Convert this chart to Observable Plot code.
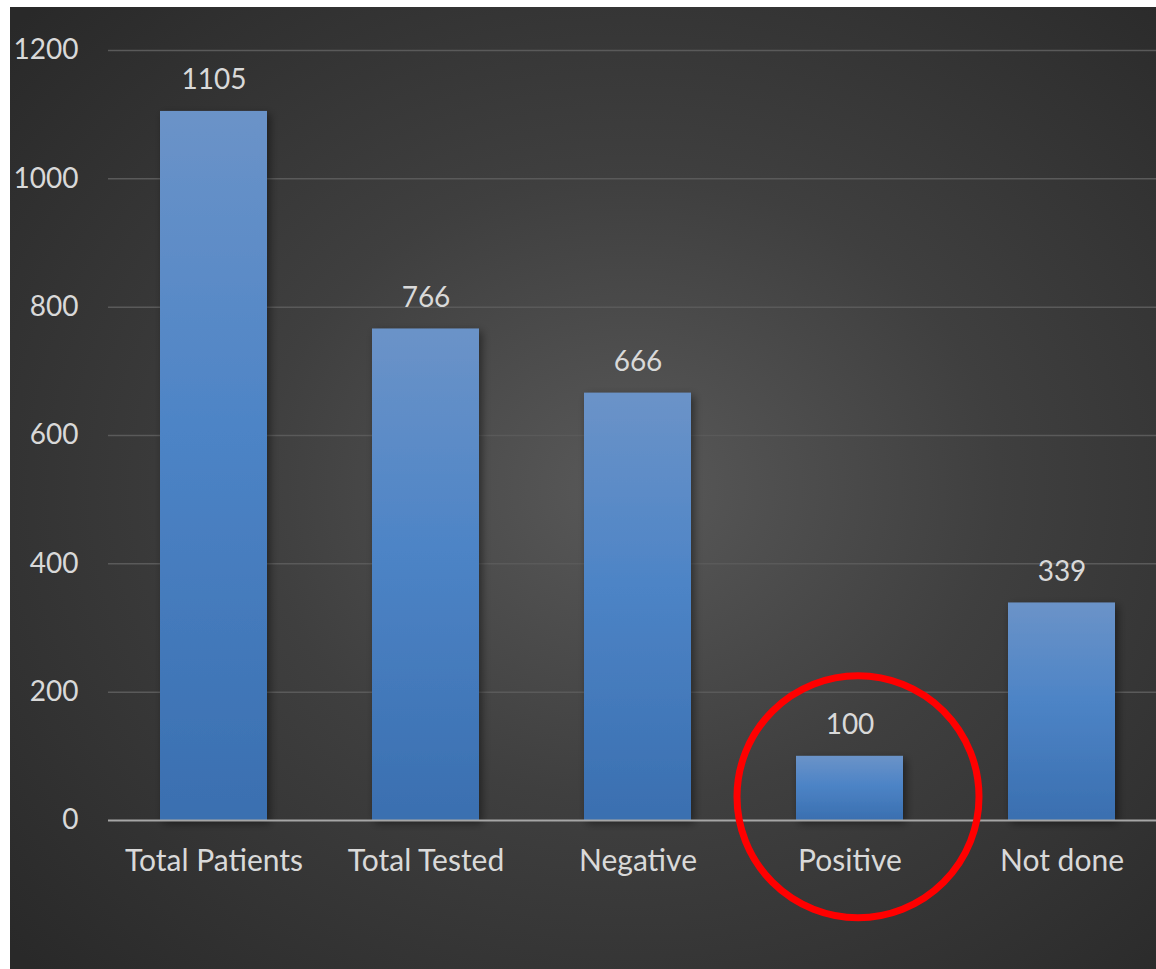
<!DOCTYPE html>
<html>
<head>
<meta charset="utf-8">
<script src="https://cdn.jsdelivr.net/npm/d3@7"></script>
<script src="https://cdn.jsdelivr.net/npm/@observablehq/plot@0.6"></script>
<style>
  html, body { margin: 0; padding: 0; background: #ffffff; }
  #chart {
    position: absolute; left: 10px; top: 7px;
    width: 1146px; height: 962px;
    background: radial-gradient(ellipse 72% 72% at 54% 50%, #595959 0%, #3f3f3f 45%, #292929 100%);
    overflow: hidden;
  }
  #chart svg { background: transparent; overflow: visible; }
</style>
</head>
<body>
<div id="chart"></div>
<script>
const categories = ["Total Patients", "Total Tested", "Negative", "Positive", "Not done"];
const values = [1105, 766, 666, 100, 339];
const yTicks = [0, 200, 400, 600, 800, 1000, 1200];
const highlight = [{category: "Positive", value: 37}];

const data = categories.map((c, i) => ({category: c, value: values[i]}));
const W = 1146, H = 962;
const font = "Lato, 'Open Sans', sans-serif";

const chart = Plot.plot({
  width: W,
  height: H,
  marginTop: 43,
  marginBottom: 149,
  marginLeft: 98,
  marginRight: 0,
  style: {background: "transparent", fontFamily: font, color: "#d9d9d9", overflow: "visible"},
  x: {domain: categories, range: [98, 1158], paddingInner: 0.495, paddingOuter: 0.2475, label: null},
  y: {domain: [0, 1200], ticks: yTicks, label: null},
  marks: [
    Plot.gridY(yTicks.filter(d => d > 0), {stroke: "#5a5a5a", strokeOpacity: 1, strokeWidth: 1.5}),
    Plot.barY(data, {x: "category", y: "value", fill: "url(#barGrad)", className: "bars"}),
    Plot.ruleY([0], {stroke: "#a6a6a6", strokeWidth: 2}),
    Plot.text(data, {x: "category", y: "value", text: d => String(d.value), dy: -31, fill: "#d9d9d9", fontSize: 28, lineAnchor: "middle"}),
    Plot.axisY({ticks: yTicks, tickSize: 0, tickPadding: 30, fontSize: 28, fill: "#d9d9d9", tickFormat: d => String(d)}),
    Plot.axisX({tickSize: 0, tickPadding: 29, fontSize: 30, fill: "#d9d9d9"}),
    Plot.dot(highlight, {x: "category", y: "value", r: 121, dx: 8, stroke: "#ff0000", strokeWidth: 7, fill: "none"})
  ]
});

const svg = d3.select(chart);
const defs = svg.insert("defs", ":first-child");
const g = defs.append("linearGradient").attr("id", "barGrad").attr("x1", 0).attr("y1", 0).attr("x2", 0).attr("y2", 1);
g.append("stop").attr("offset", "0%").attr("stop-color", "#6b93c8");
g.append("stop").attr("offset", "45%").attr("stop-color", "#4d84c6");
g.append("stop").attr("offset", "100%").attr("stop-color", "#3a6fb0");
const f = defs.append("filter").attr("id", "shadow").attr("x", "-20%").attr("y", "-20%").attr("width", "150%").attr("height", "150%");
f.append("feDropShadow").attr("dx", 3).attr("dy", 3).attr("stdDeviation", 4).attr("flood-color", "#000").attr("flood-opacity", 0.45);
svg.selectAll(".bars").attr("filter", "url(#shadow)");

document.getElementById("chart").appendChild(chart);
</script>
</body>
</html>
